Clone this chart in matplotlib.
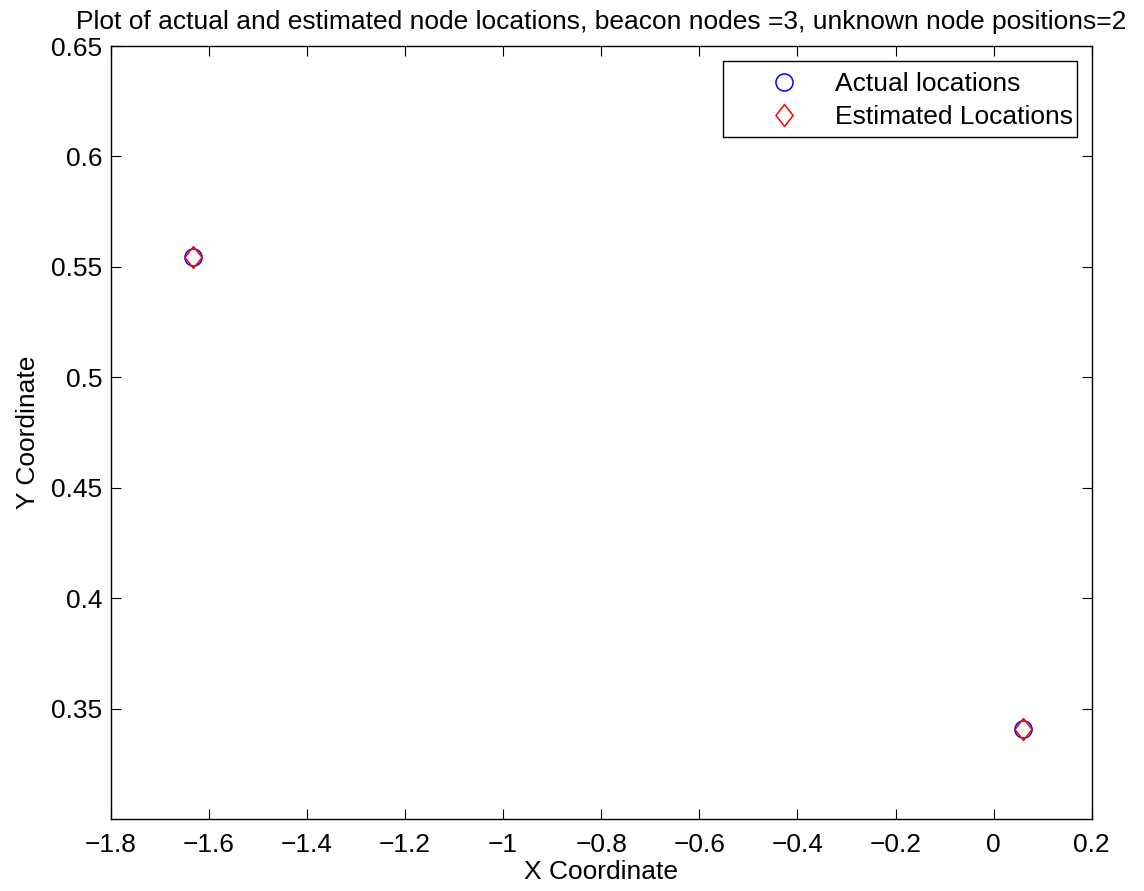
import matplotlib
matplotlib.use("Agg")
import matplotlib.pyplot as plt
from matplotlib.lines import Line2D
from matplotlib.legend_handler import HandlerLine2D
import numpy as np

# Data
actual_x = [-1.6316, 0.0606]
actual_y = [0.5543, 0.3408]
est_x = [-1.6316, 0.0606]
est_y = [0.5543, 0.3408]

x_ticks = [-1.8, -1.6, -1.4, -1.2, -1.0, -0.8, -0.6, -0.4, -0.2, 0.0, 0.2]
x_tick_labels = ["\u22121.8", "\u22121.6", "\u22121.4", "\u22121.2", "\u22121", "\u22120.8",
                 "\u22120.6", "\u22120.4", "\u22120.2", "0", "0.2"]
y_ticks = [0.35, 0.4, 0.45, 0.5, 0.55, 0.6, 0.65]
y_tick_labels = ["0.35", "0.4", "0.45", "0.5", "0.55", "0.6", "0.65"]

title = "Plot of actual and estimated node locations, beacon nodes =3, unknown node positions=2"
series_labels = ["Actual locations", "Estimated Locations"]

plt.rcParams['font.family'] = ['Liberation Sans', 'DejaVu Sans']
FS = 19


class ShiftedHandler(HandlerLine2D):
    """Line handler whose marker is nudged down to sit on the text centre."""
    def __init__(self, shift=3.2, **kw):
        super().__init__(**kw)
        self._shift = shift

    def create_artists(self, legend, orig_handle, xdescent, ydescent,
                       width, height, fontsize, trans):
        arts = super().create_artists(legend, orig_handle, xdescent, ydescent,
                                      width, height, fontsize, trans)
        for a in arts:
            if isinstance(a, Line2D):
                a.set_ydata(np.asarray(a.get_ydata()) - self._shift)
        return arts


fig = plt.figure(figsize=(11.44, 8.91), dpi=100)
ax = fig.add_axes([110.7/1144, 1 - 819.3/891, (1091.7-110.7)/1144, (819.3-46)/891])

diamond = [(0, 1), (0.78, 0), (0, -1), (-0.78, 0), (0, 1)]
ax.plot(actual_x, actual_y, linestyle='none', marker='o', markersize=12.3,
        markerfacecolor='none', markeredgecolor=(0, 0, 1), markeredgewidth=1.1,
        label=series_labels[0])
ax.plot(est_x, est_y, linestyle='none', marker=diamond, markersize=15.8,
        markerfacecolor='none', markeredgecolor=(1, 0, 0), markeredgewidth=1.1,
        label=series_labels[1])

ax.set_xlim(-1.8, 0.2)
ax.set_ylim(0.3, 0.65)
ax.set_xticks(x_ticks)
ax.set_xticklabels(x_tick_labels)
ax.set_yticks(y_ticks)
ax.set_yticklabels(y_tick_labels)
ax.tick_params(direction='in', length=7.5, width=0.8, top=True, right=True,
               labelsize=FS, colors='black')
ax.tick_params(axis='x', pad=10)
ax.tick_params(axis='y', pad=6)
for s in ax.spines.values():
    s.set_linewidth(1.0)
    s.set_color('black')

ax.set_xlabel("X Coordinate", fontsize=FS, labelpad=2)
ax.set_ylabel("Y Coordinate", fontsize=FS, labelpad=8)
ax.set_title(title, fontsize=FS, pad=12)

leg = ax.legend(loc='upper right', fontsize=FS, frameon=True, fancybox=False,
                edgecolor='black', framealpha=1, borderaxespad=0.55,
                handlelength=4.32, handleheight=1.7, handletextpad=-0.23,
                borderpad=0.15, labelspacing=-0.1, numpoints=1,
                handler_map={Line2D: ShiftedHandler()})
leg.get_frame().set_linewidth(1.0)

fig.savefig("out.png", dpi=100)
